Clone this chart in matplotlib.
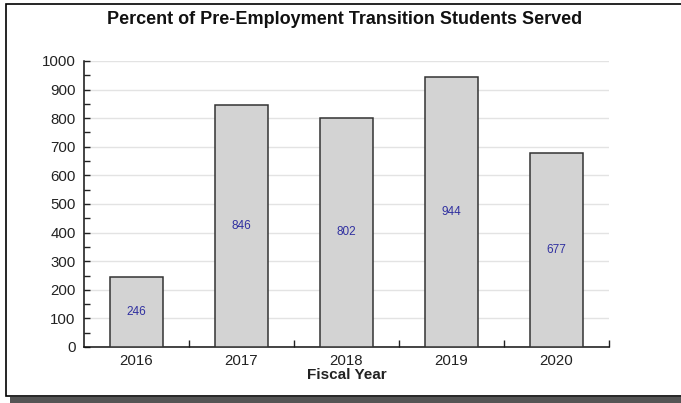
import matplotlib.pyplot as plt
from matplotlib.patches import Rectangle

years = ['2016', '2017', '2018', '2019', '2020']
served = [246, 846, 802, 944, 677]

plt.rcParams['font.family'] = ['Liberation Sans', 'DejaVu Sans']

fig = plt.figure(figsize=(6.81, 4.03), dpi=100)

# outer frame and drop shadow
fig.patches.append(Rectangle((10 / 681, 0), 1.0, 6 / 403, transform=fig.transFigure,
                             facecolor='#555555', edgecolor='none', zorder=-2))
fig.patches.append(Rectangle((5.5 / 681, 7 / 403), 1.0, 392 / 403, transform=fig.transFigure,
                             facecolor='white', edgecolor='black', linewidth=1.2, zorder=-1))

ax = fig.add_axes([84 / 681, 56 / 403, 525 / 681, 286 / 403])
ax.set_facecolor('none')
ax.set_zorder(2)

x = range(len(years))
ax.bar(x, served, width=0.5, color='#d3d3d3', edgecolor='#333333', linewidth=1.1, zorder=3)
for i, v in zip(x, served):
    ax.text(i, v / 2, str(v), ha='center', va='center', fontsize=8.5, color='#3030a0', zorder=4)

ax.set_xlim(-0.5, len(years) - 0.5)
ax.set_ylim(0, 1000)
ax.set_yticks(range(0, 1001, 100))
ax.set_yticks(range(50, 1000, 100), minor=True)
ax.yaxis.grid(True, color='#e3e3e3', linewidth=1, zorder=0)
ax.set_axisbelow(True)

ax.set_xticks(list(x))
ax.set_xticklabels(years)
ax.tick_params(axis='x', length=0, labelsize=10.8, pad=5, colors='#222222')
ax.set_xticks([i + 0.5 for i in x], minor=True)
ax.tick_params(axis='x', which='minor', direction='in', length=5, width=1, color='#222222')
ax.tick_params(axis='y', which='both', direction='in', length=4, width=1, labelsize=10.8,
               pad=6, colors='#222222')

for s in ['top', 'right']:
    ax.spines[s].set_visible(False)
for s in ['left', 'bottom']:
    ax.spines[s].set_color('#111111')
    ax.spines[s].set_linewidth(1.1)

ax.set_xlabel('Fiscal Year', fontsize=11, fontweight='bold', labelpad=0, color='#222222')
fig.text(345 / 681, 1 - 20 / 403, 'Percent of Pre-Employment Transition Students Served',
         ha='center', va='center', fontsize=13, fontweight='bold', color='#111111')

fig.savefig('out.png', dpi=100)
